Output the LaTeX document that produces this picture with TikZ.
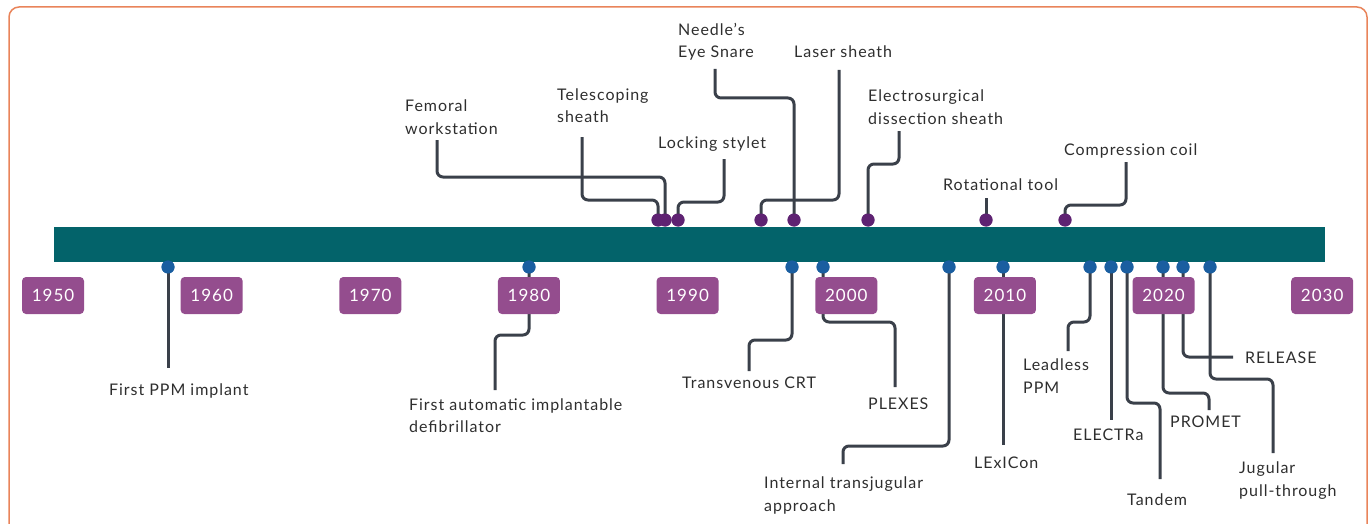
\documentclass[tikz,border=0pt]{standalone}
\usepackage{fontspec}
\setmainfont{Lato}[LetterSpace=6]
\definecolor{barteal}{HTML}{03636A}
\definecolor{yearpurple}{HTML}{944D8E}
\definecolor{topdot}{HTML}{5E2272}
\definecolor{botdot}{HTML}{1A5EA0}
\definecolor{linegray}{HTML}{3A404A}
\definecolor{txtgray}{HTML}{2E2E2E}
\definecolor{frameorange}{HTML}{E9845A}
\begin{document}
\begin{tikzpicture}[x=1pt,y=-1pt,
  frame/.style={draw=frameorange,line width=1.5pt,rounded corners=10pt},
  bar/.style={fill=barteal,draw=none},
  yearbox/.style={fill=yearpurple,draw=none,rounded corners=4pt,minimum width=62pt,minimum height=37pt,inner sep=0pt,text=white,font=\fontsize{17}{20}\selectfont},
  tdot/.style={circle,fill=topdot,draw=none,minimum size=13pt,inner sep=0pt},
  bdot/.style={circle,fill=botdot,draw=none,minimum size=13pt,inner sep=0pt},
  conn/.style={draw=linegray,line width=3pt,rounded corners=6pt},
  lbl/.style={anchor=base west,inner sep=0pt,text=txtgray,align=left,font=\fontsize{16}{22.5}\selectfont}
]
\useasboundingbox (0,0) rectangle (1372,524);
\begin{scope}
  \clip (0,0) rectangle (1372,524);
  \draw[frame] (9,7) rectangle (1367,560);
\end{scope}

% ---------- top events: dots ----------
\node[tdot] (dTel) at (658,220) {};
\node[tdot] (dFem) at (665,220) {};
\node[tdot] (dLock) at (678,220) {};
\node[tdot] (dLaser) at (761,220) {};
\node[tdot] (dNeedle) at (794,220) {};
\node[tdot] (dElec) at (868,220) {};
\node[tdot] (dRot) at (986,220) {};
\node[tdot] (dComp) at (1065,220) {};

% ---------- top labels (base = last line) ----------
\node[lbl] (lFem) at (405,134) {Femoral\\workstation};
\node[lbl] (lTel) at (557,123) {Telescoping\\sheath};
\node[lbl] (lLock) at (658,148) {Locking stylet};
\node[lbl] (lNeedle) at (678,58) {Needle’s\\Eye Snare};
\node[lbl] (lLaser) at (794,58) {Laser sheath};
\node[lbl] (lElec) at (868,124.5) {Electrosurgical\\dissection sheath};
\node[lbl] (lRot) at (943,190) {Rotational tool};
\node[lbl] (lComp) at (1064,155.5) {Compression coil};

\coordinate (eFem) at (437,140);
\coordinate (eTel) at (582,137);
\coordinate (eLock) at (724,159);
\coordinate (eNeedle) at (715,69);
\coordinate (eLaser) at (839,70);
\coordinate (eElec) at (899,131);
\coordinate (eRot) at (986,198);
\coordinate (eComp) at (1126,162);

\draw[conn] (dFem.center) -- (665,177) -- (437,177) -- (eFem);
\draw[conn] (dTel.center) -- (658,200) -- (582,200) -- (eTel);
\draw[conn] (dLock.center) -- (678,202) -- (724,202) -- (eLock);
\draw[conn] (dNeedle.center) -- (794,98) -- (715,98) -- (eNeedle);
\draw[conn] (dLaser.center) -- (761,200) -- (839,200) -- (eLaser);
\draw[conn] (dElec.center) -- (868,164) -- (899,164) -- (eElec);
\draw[conn] (dRot.center) -- (eRot);
\draw[conn] (dComp.center) -- (1065,205) -- (1126,205) -- (eComp);
\foreach \d in {dTel,dFem,dLock,dLaser,dNeedle,dElec,dRot,dComp} \node[tdot] at (\d) {};

% ---------- bar ----------
\fill[bar] (54,227) rectangle (1325,262);

% ---------- bottom events ----------
\node[bdot] (dPPM) at (168,267) {};
\node[bdot] (dAICD) at (529,267) {};
\node[bdot] (dCRT) at (792,267) {};
\node[bdot] (dPlex) at (823,267) {};
\node[bdot] (dITA) at (949,267) {};
\node[bdot] (dLex) at (1003,267) {};
\node[bdot] (dLeadless) at (1090,267) {};
\node[bdot] (dElectra) at (1111,267) {};
\node[bdot] (dTandem) at (1127,267) {};
\node[bdot] (dPromet) at (1163,267) {};
\node[bdot] (dRelease) at (1183,267) {};
\node[bdot] (dJug) at (1210,267) {};

\coordinate (ePPM) at (168,368);
\coordinate (eAICD) at (495,390);
\coordinate (eCRT) at (749,371);
\coordinate (ePlex) at (895,387);
\coordinate (eITA) at (843,464);
\coordinate (eLex) at (1003,445);
\coordinate (eLeadless) at (1068,351);
\coordinate (eElectra) at (1111,420);
\coordinate (eTandem) at (1160,479);
\coordinate (ePromet) at (1209,410);
\coordinate (eRelease) at (1233,357);
\coordinate (eJug) at (1273,453);

\draw[conn] (dPPM.center) -- (ePPM);
\draw[conn] (dAICD.center) -- (529,335) -- (495,335) -- (eAICD);
\draw[conn] (dCRT.center) -- (792,340) -- (749,340) -- (eCRT);
\draw[conn] (dPlex.center) -- (823,322) -- (895,322) -- (ePlex);
\draw[conn] (dITA.center) -- (949,446) -- (843,446) -- (eITA);
\draw[conn] (dLex.center) -- (eLex);
\draw[conn] (dLeadless.center) -- (1090,322) -- (1068,322) -- (eLeadless);
\draw[conn] (dElectra.center) -- (eElectra);
\draw[conn] (dTandem.center) -- (1127,403) -- (1160,403) -- (eTandem);
\draw[conn] (dPromet.center) -- (1163,393) -- (1209,393) -- (ePromet);
\draw[conn] (dRelease.center) -- (1183,357) -- (eRelease);
\draw[conn] (dJug.center) -- (1210,379) -- (1273,379) -- (eJug);
\foreach \d in {dPPM,dAICD,dCRT,dPlex,dITA,dLex,dLeadless,dElectra,dTandem,dPromet,dRelease,dJug} \node[bdot] at (\d) {};

% ---------- year boxes ----------
\foreach \yr [count=\i from 0] in {1950,1960,1970,1980,1990,2000,2010,2020,2030}
  \node[yearbox] (y\yr) at ({53+158.65*\i},295.5) {\yr};

% ---------- bottom labels (base = last line) ----------
\node[lbl] (lPPM) at (109,395) {First PPM implant};
\node[lbl] (lAICD) at (409,432.5) {First automatic implantable\\defibrillator};
\node[lbl] (lCRT) at (682,388) {Transvenous CRT};
\node[lbl] (lPlex) at (868,409) {PLEXES};
\node[lbl] (lITA) at (764,511) {Internal transjugular\\approach};
\node[lbl] (lLex) at (974,468) {LExICon};
\node[lbl] (lLeadless) at (1023,393) {Leadless\\PPM};
\node[lbl] (lElectra) at (1073,440) {ELECTRa};
\node[lbl] (lTandem) at (1127,505) {Tandem};
\node[lbl] (lPromet) at (1170,427) {PROMET};
\node[lbl] (lRelease) at (1245,363) {RELEASE};
\node[lbl] (lJug) at (1239,496) {Jugular\\pull-through};
\end{tikzpicture}
\end{document}
